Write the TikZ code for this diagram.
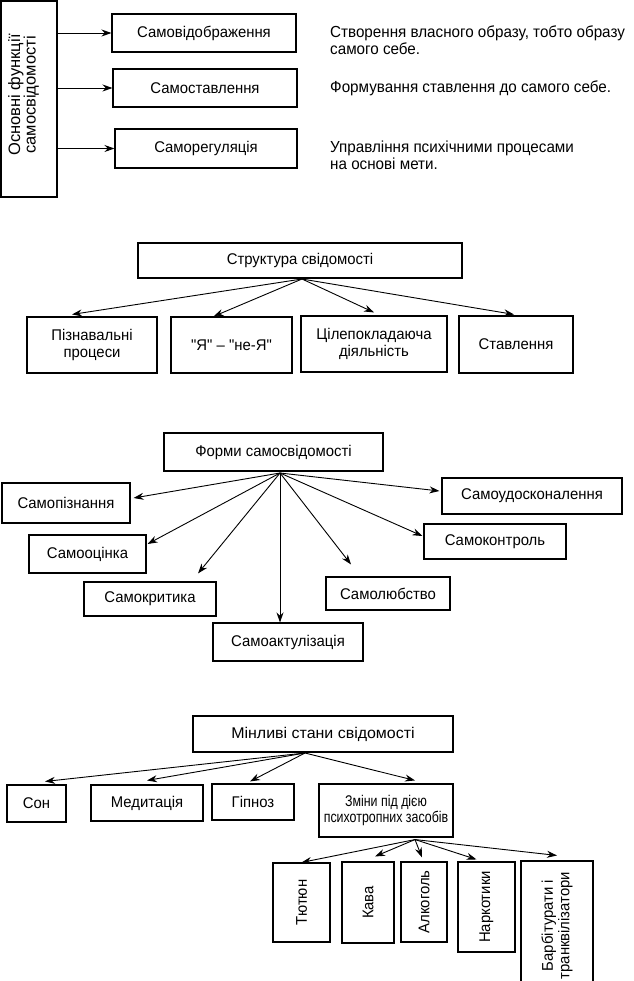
\documentclass[tikz,border=0pt]{standalone}
\usepackage{fontspec}
\setmainfont{Liberation Sans}
\newfontfamily\bfnt[FakeStretch=0.96]{Liberation Sans}
\newfontfamily\bfntn[FakeStretch=0.8]{Liberation Sans}
\newfontfamily\bfntw[FakeStretch=1.03]{Liberation Sans}
\newfontfamily\dfnt[FakeStretch=0.95]{Liberation Sans}
\usetikzlibrary{arrows.meta}
\newcommand\myfs{\bfnt\fontsize{15.5}{16.5}\selectfont}
\newcommand\mydfs{\dfnt\fontsize{16}{16.5}\selectfont}
\begin{document}
\begin{tikzpicture}[x=1pt,y=-1pt,
  bx/.style={draw, line width=1.1pt, inner sep=0pt, align=center, font=\myfs},
  sz/.style 2 args={minimum width=#1pt, minimum height=#2pt},
  arr/.style={-{Stealth[length=10pt,width=7pt]}, line width=0.9pt},
  desc/.style={anchor=west, align=left, inner sep=0pt, font=\mydfs}]
\useasboundingbox (0,0) rectangle (633,981);
% ---------- section 1
\node[bx, sz={56}{196}] (L) at (29,99) {};
\node[rotate=90, align=center, font={\fontsize{16.5}{15.5}\selectfont}, inner sep=0pt] (Lt) at (23.5,95) {Основні функції\\самосвідомості};
\node[bx, sz={184}{38}] (b1) at (204,33) {Самовідображення};
\node[bx, sz={184}{38}] (b2) at (205,88) {Самоставлення};
\node[bx, sz={182}{39}] (b3) at (206,148.5) {Саморегуляція};
\draw[arr] (L.east |- b1.west) -- (b1.west);
\draw[arr] (L.east |- b2.west) -- (b2.west);
\draw[arr] (L.east |- b3.west) -- (b3.west);
\node[desc] (d1) at (330,40) {Створення власного образу, тобто образу\\самого себе.};
\node[desc] (d2) at (330,88) {Формування ставлення до самого себе.};
\node[desc] (d3) at (330,155.5) {Управління психічними процесами\\на основі мети.};
% ---------- section 2
\node[bx, sz={324}{35}] (S) at (300,260.5) {Структура свідомості};
\coordinate (o2) at (302,279);
\node[bx, sz={130}{56}] (p1) at (92,345) {Пізнавальні\\процеси};
\node[bx, sz={121}{56}] (p2) at (231.5,345) {"Я" – "не-Я"};
\node[bx, sz={146}{56}] (p3) at (374,344) {Цілепокладаюча\\діяльність};
\node[bx, sz={114}{57}] (p4) at (516,344.5) {Ставлення};
\draw[arr] (o2) -- ([xshift=-20pt,yshift=2pt]p1.north);
\draw[arr] (o2) -- ([xshift=-18pt]p2.north);
\draw[arr] (o2) -- ([yshift=3pt]p3.north);
\draw[arr] (o2) -- ([xshift=-2pt,yshift=1pt]p4.north);
% ---------- section 3
\node[bx, sz={219}{38}] (F) at (273.5,452) {Форми самосвідомості};
\coordinate (o3) at (280,473);
\node[bx, sz={128}{40}] (fa) at (66,503) {Самопізнання};
\node[bx, sz={117}{38}] (fb) at (87.5,554) {Самооцінка};
\node[bx, sz={132}{34}] (fc) at (150,599) {Самокритика};
\node[bx, sz={150}{38}] (fd) at (288,642) {Самоактулізація};
\node[bx, sz={124}{33}] (fe) at (388,593.5) {Самолюбство};
\node[bx, sz={142}{35}] (ff) at (495,541.5) {Самоконтроль};
\node[bx, sz={180}{36}] (fg) at (532,496) {Самоудосконалення};
\draw[arr] (o3) -- ([xshift=3pt,yshift=5pt]fa.east);
\draw[arr] (o3) -- ([xshift=1pt,yshift=10pt]fb.east);
\draw[arr] (o3) -- ([xshift=48pt,yshift=8pt]fc.north);
\draw[arr] (o3) -- ([xshift=-8pt]fd.north);
\draw[arr] (o3) -- ([xshift=-37pt,yshift=12pt]fe.north);
\draw[arr] (o3) -- ([xshift=-1pt,yshift=5.5pt]ff.west);
\draw[arr] (o3) -- ([xshift=-2pt,yshift=5pt]fg.west);
% ---------- section 4
\node[bx, sz={260}{36}, font={\bfntw\fontsize{15.5}{16.5}\selectfont}] (M) at (323,734) {Мінливі стани свідомості};
\coordinate (o4) at (305,753);
\node[bx, sz={59}{37}] (s1) at (36.5,803.5) {Сон};
\node[bx, sz={112}{36}] (s2) at (147,803) {Медитація};
\node[bx, sz={82}{36}] (s3) at (253,802) {Гіпноз};
\node[bx, sz={134}{53}, font={\bfntn\fontsize{15.5}{16.5}\selectfont}] (s4) at (386,810.5) {Зміни під дією\\психотропних засобів};
\draw[arr] (o4) -- ([xshift=8.5pt,yshift=3pt]s1.north);
\draw[arr] (o4) -- ([yshift=4pt]s2.north);
\draw[arr] (o4) -- ([xshift=-3pt,yshift=2pt]s3.north);
\draw[arr] (o4) -- ([xshift=29pt,yshift=3pt]s4.north);
\coordinate (o5) at ([xshift=29pt,yshift=-2pt]s4.south);
\node[bx, sz={79}{57}, rotate=90] (r1) at (301.5,902.5) {Тютюн};
\node[bx, sz={81}{52}, rotate=90] (r2) at (368,902.5) {Кава};
\node[bx, sz={80}{46}, rotate=90] (r3) at (424,902) {Алкоголь};
\node[bx, sz={90}{57}, rotate=90] (r4) at (486.5,907) {Наркотики};
\node[bx, sz={129}{72}, rotate=90] (r5) at (557,925.5) {Барбітурати і\\транквілізатори};
\draw[arr] (o5) -- (r1.east);
\draw[arr] (o5) -- ([xshift=7pt,yshift=5pt]r2.east);
\draw[arr] (o5) -- ([xshift=-2pt,yshift=4pt]r3.east);
\draw[arr] (o5) -- ([xshift=-10pt,yshift=2pt]r4.east);
\draw[arr] (o5) -- ([yshift=5pt]r5.east);
\end{tikzpicture}
\end{document}
